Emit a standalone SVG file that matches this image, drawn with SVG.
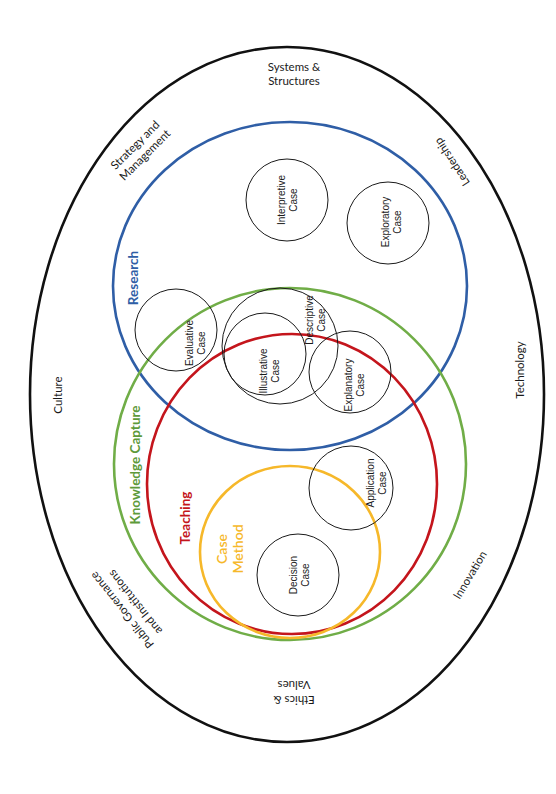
<svg xmlns="http://www.w3.org/2000/svg" width="556" height="794" viewBox="0 0 556 794">
<style>
.big{fill:none;stroke-width:2.6}
.sm{fill:none;stroke:#1a1a1a;stroke-width:1}
.ol{font-family:Lato,"Open Sans",sans-serif;font-size:11.5px;fill:#1a1a1a;text-anchor:middle}
.cl{font-family:Lato,"Open Sans",sans-serif;font-size:13.5px;font-weight:bold;text-anchor:middle}
.sl{font-family:"Liberation Sans",Arial,sans-serif;font-size:10px;fill:#1a1a1a;text-anchor:middle}
</style>
<rect width="556" height="794" fill="#fff"/>
<g id="outer">
<ellipse cx="287" cy="394.5" rx="257" ry="347.5" class="big" stroke="#111"/>
<text class="ol" x="294" y="71">Systems &amp;</text>
<text class="ol" x="294" y="85">Structures</text>
<g transform="translate(140,150) rotate(-45)"><text class="ol" x="0" y="-3">Strategy and</text><text class="ol" x="0" y="11">Management</text></g>
<g transform="translate(452,162) rotate(-123)"><text class="ol" x="0" y="4">Leadership</text></g>
<g transform="translate(58,395) rotate(-90)"><text class="ol" x="0" y="4">Culture</text></g>
<g transform="translate(520,370) rotate(-90)"><text class="ol" x="0" y="4">Technology</text></g>
<g transform="translate(470,575) rotate(-59)"><text class="ol" x="0" y="4">Innovation</text></g>
<g transform="translate(122,610) rotate(-128.6)"><text class="ol" x="0" y="4">Public Governance</text><text class="ol" x="-2" y="19">and Institutions</text></g>
<g transform="translate(294,692) rotate(180)"><text class="ol" x="0" y="-4">Ethics &amp;</text><text class="ol" x="0" y="11">Values</text></g>
</g>
<g id="research">
<ellipse cx="290" cy="286" rx="177" ry="164" class="big" stroke="#2f5ea6"/>
<g transform="translate(133,278) rotate(-90)"><text class="cl" fill="#2f5ea6" x="0" y="5">Research</text></g>
</g>
<g id="knowledge">
<ellipse cx="290" cy="464" rx="176" ry="176" class="big" stroke="#70ad47"/>
<g transform="translate(135,465) rotate(-90)"><text class="cl" fill="#5e9a3a" x="0" y="5">Knowledge Capture</text></g>
</g>
<g id="teaching">
<ellipse cx="292" cy="484" rx="145" ry="150" class="big" stroke="#c4151c"/>
<g transform="translate(185,518) rotate(-90)"><text class="cl" fill="#c4151c" x="0" y="5">Teaching</text></g>
</g>
<g id="casemethod">
<ellipse cx="290" cy="552" rx="90" ry="86" class="big" stroke="#f6b82a"/>
<g transform="translate(230,549) rotate(-90)"><text class="cl" style="font-weight:600;font-size:14px" fill="#f6b82a" x="0" y="-3">Case</text><text class="cl" style="font-weight:600;font-size:14px" fill="#f6b82a" x="0" y="13">Method</text></g>
</g>
<g id="interpretive"><circle cx="287" cy="200" r="41" class="sm"/>
<g transform="translate(287,200) rotate(-90)"><text class="sl" y="-2.5">Interpretive</text><text class="sl" y="9.5">Case</text></g></g>
<g id="exploratory"><circle cx="388" cy="223" r="41" class="sm"/>
<g transform="translate(391,222) rotate(-90)"><text class="sl" y="-2.5">Exploratory</text><text class="sl" y="9.5">Case</text></g></g>
<g id="evaluative"><circle cx="176" cy="330" r="41" class="sm"/>
<g transform="translate(195,343) rotate(-90)"><text class="sl" y="-2.5">Evaluative</text><text class="sl" y="10">Case</text></g></g>
<g id="descriptive"><circle cx="280" cy="346" r="58" class="sm"/>
<g transform="translate(315,320) rotate(-90)"><text class="sl" y="-2.5">Descriptive</text><text class="sl" y="10">Case</text></g></g>
<g id="illustrative"><circle cx="265" cy="354" r="41" class="sm"/>
<g transform="translate(269,371) rotate(-90)"><text class="sl" y="-2.5">Illustrative</text><text class="sl" y="10">Case</text></g></g>
<g id="explanatory"><circle cx="350" cy="372" r="41" class="sm"/>
<g transform="translate(354,385) rotate(-90)"><text class="sl" y="-2.5">Explanatory</text><text class="sl" y="10">Case</text></g></g>
<g id="application"><circle cx="351" cy="488" r="42" class="sm"/>
<g transform="translate(376,483) rotate(-90)"><text class="sl" y="-2.5">Application</text><text class="sl" y="10">Case</text></g></g>
<g id="decision"><circle cx="298" cy="575" r="41" class="sm"/>
<g transform="translate(299,575) rotate(-90)"><text class="sl" y="-2.5">Decision</text><text class="sl" y="9.5">Case</text></g></g>
<g id="connectors"></g>
</svg>
